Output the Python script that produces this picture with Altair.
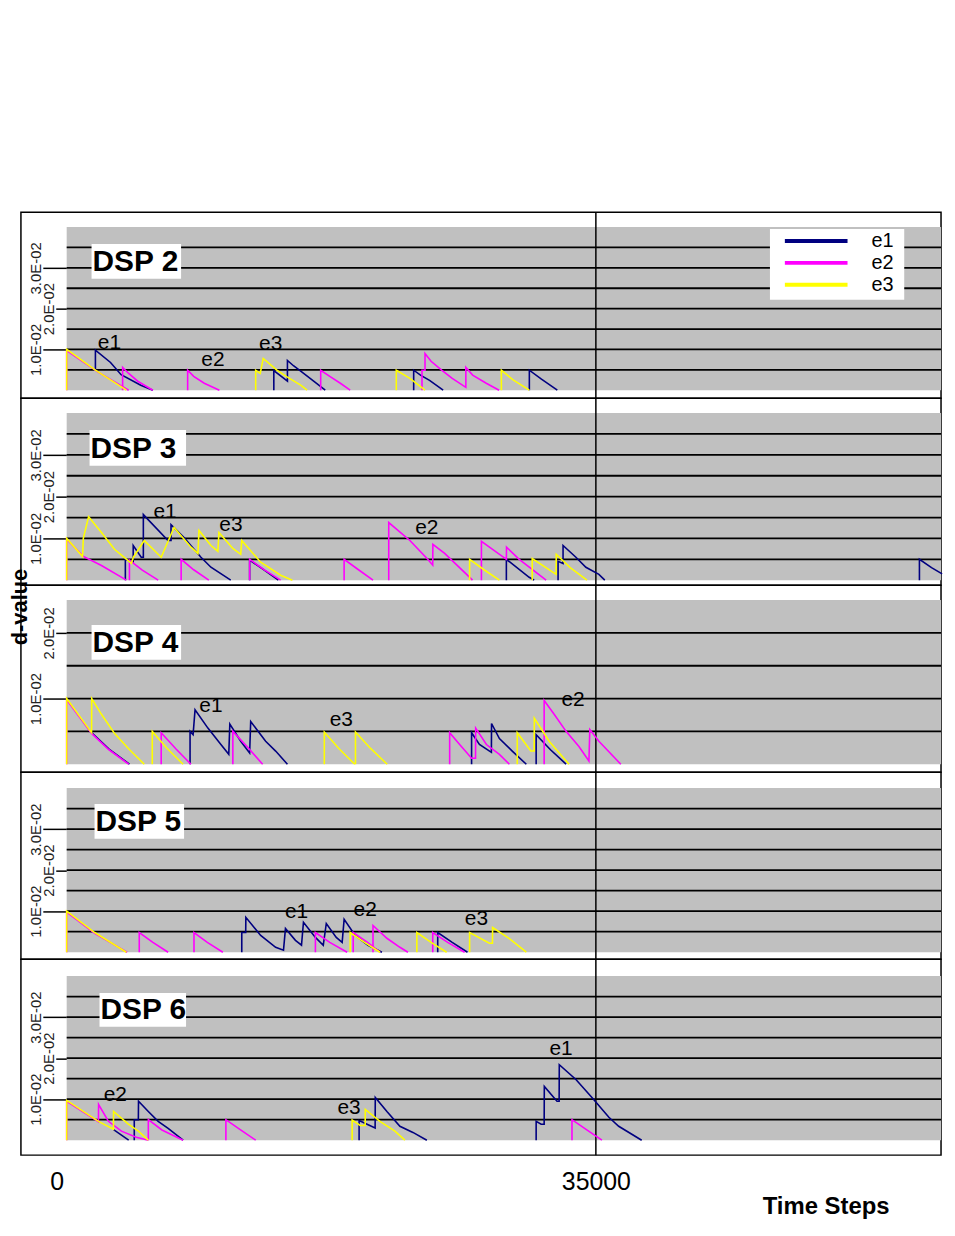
import altair as alt
import pandas as pd

FONT = "Liberation Sans"
SERIES = ["e1", "e2", "e3"]
COLORS = ["#000080", "#ff00ff", "#ffff00"]
PANEL_NAMES = ["DSP 2", "DSP 3", "DSP 4", "DSP 5", "DSP 6"]
X_TICKS = [0, 35000]
Y_MAX = [0.04, 0.04, 0.025, 0.04, 0.04]
Y_TICKS = [[0.01, 0.02, 0.03], [0.01, 0.02, 0.03], [0.01, 0.02],
           [0.01, 0.02, 0.03], [0.01, 0.02, 0.03]]
GRID_8 = [0.005, 0.01, 0.015, 0.02, 0.025, 0.03, 0.035]
GRID_5 = [0.005, 0.01, 0.015, 0.02]
GRIDS = [GRID_8, GRID_8, GRID_5, GRID_8, GRID_8]

# ---- (time step, d-value) runs for each series ----
DSP2_E1 = [
    [(1900, 0.0050), (1900, 0.0098), (2900, 0.0068), (3600, 0.0038), (4900, 0.0012), (5700, 0)],
    [(13700, 0), (13700, 0.0048), (14600, 0.0022), (14600, 0.0073), (15000, 0.0060), (15500, 0.0046), (16100, 0.0029), (17100, 0)],
    [(22950, 0), (22950, 0.0049), (23400, 0.0037), (24000, 0.0024), (24900, 0)],
    [(30600, 0), (30600, 0.0049), (31400, 0.0027), (32450, 0)],
]
DSP2_E2 = [
    [(0, 0), (0, 0.0097), (2000, 0.0046), (4100, 0)],
    [(3700, 0), (3700, 0.0056), (4100, 0.0041), (4700, 0.0022), (5700, 0)],
    [(8000, 0), (8000, 0.0049), (8400, 0.0034), (9100, 0.0017), (10100, 0)],
    [(16800, 0), (16800, 0.0049), (17400, 0.0034), (18100, 0.0017), (18750, 0)],
    [(23500, 0), (23500, 0.0049), (23700, 0.0049), (23700, 0.0090), (24100, 0.0071), (24800, 0.0049),
     (25500, 0.0029), (26400, 0.0007), (26400, 0.0056), (26850, 0.0037), (27750, 0.0017), (28600, 0)],
]
DSP2_E3 = [
    [(0, 0), (0, 0.0100), (1900, 0.0049), (3950, 0)],
    [(12500, 0), (12500, 0.0049), (12800, 0.0041), (13000, 0.0078), (13900, 0.0049), (14600, 0.0032), (15500, 0.0012), (15900, 0)],
    [(21800, 0), (21800, 0.0049), (22700, 0.0029), (23700, 0)],
    [(28750, 0), (28750, 0.0049), (29500, 0.0026), (30600, 0)],
]

DSP3_E1 = [
    [(3880, 0), (3880, 0.0050), (4400, 0.0043), (4400, 0.0083), (4930, 0.0055), (5070, 0.0055), (5070, 0.0157),
     (6700, 0.0095), (6900, 0.0095), (6900, 0.0133), (7760, 0.0102), (8880, 0.0055), (9540, 0.0031), (10850, 0)],
    [(12100, 0), (12100, 0.0048), (13000, 0.0026), (14000, 0)],
    [(29080, 0), (29080, 0.0050), (30590, 0.0007), (30920, 0)],
    [(32500, 0), (32500, 0.0045), (32830, 0.0040), (32830, 0.0083), (33680, 0.0055), (34340, 0.0031), (35200, 0.0014), (35590, 0)],
    [(56400, 0), (56400, 0.0050), (57200, 0.0030), (57900, 0.0015)],
]
DSP3_E2 = [
    [(0, 0), (0, 0.0098), (1100, 0.0057), (2300, 0.0035), (3950, 0)],
    [(4150, 0), (4150, 0.0048), (5000, 0.0024), (6050, 0)],
    [(7570, 0), (7570, 0.0050), (8400, 0.0025), (9400, 0)],
    [(12100, 0), (12100, 0.0050), (13100, 0.0024), (14150, 0)],
    [(18350, 0), (18350, 0.0050), (19300, 0.0025), (20260, 0)],
    [(21300, 0), (21300, 0.0138), (22700, 0.0095), (23880, 0.0050), (24210, 0.0036), (24220, 0.0086),
     (25000, 0.0064), (26450, 0.0014), (26840, 0)],
    [(27430, 0), (27430, 0.0093), (29080, 0.0050), (29090, 0.0079), (29930, 0.0050), (31710, 0)],
]
DSP3_E3 = [
    [(0, 0), (0, 0.0100), (1050, 0.0057), (1100, 0.0100), (1450, 0.0152), (2300, 0.0114), (3160, 0.0074),
     (4280, 0.0040), (4410, 0.0055), (5130, 0.0095), (6050, 0.0062), (6250, 0.0055), (7100, 0.0126),
     (8220, 0.0079), (8680, 0.0064), (8750, 0.0119), (9540, 0.0083), (10000, 0.0069), (10070, 0.0114),
     (10990, 0.0076), (11510, 0.0062), (11580, 0.0095), (12830, 0.0043), (14150, 0.0012), (14930, 0)],
    [(26650, 0), (26650, 0.0050), (27600, 0.0025), (28620, 0)],
    [(30790, 0), (30790, 0.0052), (32370, 0.0014), (32380, 0.0062), (33300, 0.0030), (34410, 0)],
]

DSP4_E1 = [
    [(1645, 0.0048), (2800, 0.0023), (4150, 0)],
    [(8160, 0), (8160, 0.0050), (8360, 0.0045), (8490, 0.0083), (9340, 0.0055), (10200, 0.0030), (10720, 0.0015),
     (10790, 0.0061), (11510, 0.0035), (12100, 0.0017), (12170, 0.0065), (13160, 0.0035), (13820, 0.0020), (14600, 0)],
    [(26780, 0), (26780, 0.0048), (27300, 0.0030), (28090, 0.0018), (28100, 0.0062), (28620, 0.0039), (29470, 0.0020), (30400, 0)],
    [(31050, 0), (31050, 0.0045), (32000, 0.0022), (33030, 0)],
]
DSP4_E2 = [
    [(0, 0), (0, 0.0098), (1645, 0.0047), (2800, 0.0022), (4100, 0)],
    [(6250, 0), (6250, 0.0048), (7200, 0.0024), (8220, 0)],
    [(10990, 0), (10990, 0.0050), (12000, 0.0025), (12960, 0)],
    [(25330, 0), (25330, 0.0048), (25990, 0.0030), (26780, 0.0009), (27040, 0.0009), (27050, 0.0055),
     (27760, 0.0030), (28620, 0.0015), (29280, 0)],
    [(31580, 0), (31580, 0.0097), (32240, 0.0076), (33030, 0.0050), (33880, 0.0027), (34540, 0.0005),
     (34600, 0.0053), (35200, 0.0035), (36650, 0)],
]
DSP4_E3 = [
    [(0, 0), (0, 0.0100), (1645, 0.0048), (1655, 0.0100), (2300, 0.0076), (3160, 0.0047), (4080, 0.0024), (5130, 0)],
    [(5660, 0), (5660, 0.0050), (6600, 0.0025), (7700, 0)],
    [(17040, 0), (17040, 0.0049), (18000, 0.0024), (19050, 0)],
    [(19100, 0), (19100, 0.0049), (20100, 0.0024), (21200, 0)],
    [(29800, 0), (29800, 0.0048), (30700, 0.0020), (30920, 0.0020), (30930, 0.0070), (31910, 0.0035), (33220, 0)],
]

DSP5_E1 = [
    [(11580, 0), (11580, 0.0048), (11840, 0.0048), (11850, 0.0085), (12830, 0.0041), (13820, 0.0012),
     (14340, 0.0005), (14470, 0.0058), (15130, 0.0029), (15530, 0.0017), (15660, 0.0073), (16450, 0.0036),
     (16970, 0.0017), (17170, 0.0070), (17830, 0.0036), (18220, 0.0024), (18350, 0.0080), (19080, 0.0041),
     (19930, 0.0017), (20850, 0)],
    [(24540, 0), (24540, 0.0048), (25500, 0.0024), (26510, 0)],
]
DSP5_E2 = [
    [(0, 0), (0, 0.0098), (1850, 0.0046), (4000, 0)],
    [(4800, 0), (4800, 0.0048), (5700, 0.0024), (6710, 0)],
    [(8420, 0), (8420, 0.0048), (9300, 0.0024), (10330, 0)],
    [(16450, 0), (16450, 0.0048), (17400, 0.0024), (18550, 0)],
    [(18950, 0), (18950, 0.0048), (19900, 0.0024), (20720, 0)],
    [(20260, 0), (20260, 0.0065), (21180, 0.0034), (22040, 0.0012), (22570, 0)],
    [(24210, 0), (24210, 0.0048), (25200, 0.0024), (26320, 0)],
]
DSP5_E3 = [
    [(0, 0), (0, 0.0100), (1850, 0.0048), (3950, 0)],
    [(18750, 0), (18750, 0.0048), (19700, 0.0024), (20720, 0)],
    [(23160, 0), (23160, 0.0048), (24100, 0.0024), (25130, 0)],
    [(26650, 0), (26650, 0.0048), (27960, 0.0022), (28160, 0.0022), (28170, 0.0060), (29280, 0.0033), (30400, 0)],
]

DSP6_E1 = [
    [(3100, 0.0026), (4100, 0)],
    [(4470, 0), (4470, 0.0050), (4740, 0.0050), (4750, 0.0095), (5400, 0.0070), (6050, 0.0046), (6710, 0.0029), (7700, 0)],
    [(19340, 0), (19340, 0.0048), (20400, 0.0030), (20410, 0.0104), (21180, 0.0070), (22040, 0.0034), (22900, 0.0019), (23820, 0)],
    [(31050, 0), (31050, 0.0046), (31380, 0.0039), (31580, 0.0039), (31590, 0.0131), (32430, 0.0095), (32570, 0.0095),
     (32580, 0.0184), (33680, 0.0148), (34740, 0.0104), (35860, 0.0056), (36510, 0.0034), (38030, 0)],
]
DSP6_E2 = [
    [(0, 0), (0, 0.0095), (2100, 0.0045), (2110, 0.0087), (2760, 0.0046), (3620, 0.0022), (4600, 0.0007), (5400, 0)],
    [(5400, 0), (5400, 0.0050), (6300, 0.0025), (7700, 0)],
    [(10530, 0), (10530, 0.0050), (11500, 0.0025), (12500, 0)],
    [(33420, 0), (33420, 0.0050), (34400, 0.0025), (35400, 0)],
]
DSP6_E3 = [
    [(0, 0), (0, 0.0097), (2100, 0.0046), (3090, 0.0027), (3100, 0.0070), (4080, 0.0039), (4740, 0.0022), (5400, 0)],
    [(18880, 0), (18880, 0.0049), (19410, 0.0036), (19740, 0.0036), (19750, 0.0075), (20720, 0.0046), (21710, 0.0022), (22370, 0)],
]

# peak annotations: (text, time step, d-value)
DSP2_LABELS = [("e1", 2830, 0.0115), ("e2", 9670, 0.0073), ("e3", 13490, 0.0112)]
DSP3_LABELS = [("e1", 6510, 0.0164), ("e3", 10860, 0.0133), ("e2", 23820, 0.0126)]
DSP4_LABELS = [("e1", 9540, 0.0088), ("e3", 18160, 0.0067), ("e2", 33490, 0.0098)]
DSP5_LABELS = [("e1", 15200, 0.0099), ("e2", 19740, 0.0102), ("e3", 27100, 0.0080)]
DSP6_LABELS = [("e2", 3220, 0.0109), ("e3", 18680, 0.0078), ("e1", 32700, 0.0221)]

PANELS = [
    (DSP2_E1, DSP2_E2, DSP2_E3, DSP2_LABELS),
    (DSP3_E1, DSP3_E2, DSP3_E3, DSP3_LABELS),
    (DSP4_E1, DSP4_E2, DSP4_E3, DSP4_LABELS),
    (DSP5_E1, DSP5_E2, DSP5_E3, DSP5_LABELS),
    (DSP6_E1, DSP6_E2, DSP6_E3, DSP6_LABELS),
]

# ---- layout (pixels) ----
W = 925
X0_PX = 46
PX_PER_STEP = 532 / 35000
X_LO = -X0_PX / PX_PER_STEP
X_HI = (W - X0_PX) / PX_PER_STEP
GEOM = [
    dict(h=187, top=15, bot=8, box=(71, 32, 161, 67), txt=(72, 50)),
    dict(h=188, top=15, bot=5, box=(69, 32, 166, 68), txt=(70, 51)),
    dict(h=188, top=15, bot=8, box=(71, 40, 161, 75), txt=(72, 58)),
    dict(h=188, top=16, bot=7, box=(74, 32, 164, 67), txt=(75, 50)),
    dict(h=197, top=17, bot=15, box=(79, 34, 166, 68), txt=(80, 51)),
]

LEGEND = alt.Legend(
    orient="none", legendX=766, legendY=18, title=None, direction="vertical",
    symbolType="stroke", symbolSize=3969, symbolStrokeWidth=4, clipHeight=22,
    labelFontSize=20, labelFont=FONT, labelColor="black", labelOffset=22,
    rowPadding=0, padding=0, symbolOffset=0,
)


def runs_frame(e1, e2, e3):
    rows = []
    for name, runs in zip(SERIES, (e1, e2, e3)):
        for k, run in enumerate(runs):
            for i, (t, v) in enumerate(run):
                rows.append({"series": name, "seg": f"{name}-{k}", "i": i, "t": t, "v": v})
    return pd.DataFrame(rows)


def make_panel(k):
    e1, e2, e3, labels = PANELS[k]
    g = GEOM[k]
    H = g["h"]
    gh = H - g["top"] - g["bot"]
    ymax = Y_MAX[k]
    ys = alt.Scale(domain=[-g["bot"] / gh * ymax, ymax + g["top"] / gh * ymax], nice=False, zero=False)
    xs = alt.Scale(domain=[X_LO, X_HI], nice=False, zero=False)
    last = k == len(PANELS) - 1

    if last:
        xax = alt.Axis(
            values=X_TICKS, format="d", domain=False, ticks=False, grid=False,
            labelPadding=15, labelFontSize=25, labelFont=FONT, labelColor="black",
            labelFlush=False, labelOverlap=False,
            labelOffset={"condition": {"test": "datum.value == 0", "value": -10}, "value": 0},
            titleX=809, titleY=59, titleFontSize=24, titleFontWeight="bold", titleFont=FONT,
            titleAlign="center", titleBaseline="alphabetic", titleColor="black",
        )
        xtitle = "Time Steps"
    else:
        xax = None
        xtitle = None

    yax = alt.Axis(
        values=Y_TICKS[k], orient="left", offset=-X0_PX, domain=False, grid=False,
        ticks=True, tickColor="black", tickWidth=1.5,
        tickSize={"condition": {"test": "abs(datum.value - 0.02) < 0.0001", "value": 11}, "value": 24},
        labelAngle=270, labelAlign="center", labelBaseline="alphabetic", labelPadding=2,
        labelFontSize=15, labelFont=FONT, labelColor="#222222", labelOverlap=False, labelFlush=False,
        labelExpr="replace(format(datum.value, '.1e'), 'e-', 'E-0')",
    )

    def X(field):
        return alt.X(field, scale=xs, axis=xax, title=xtitle)

    def Y(field):
        return alt.Y(field, scale=ys, axis=yax, title=None)

    one = alt.Data(values=[{}])

    bg = alt.Chart(pd.DataFrame({"x": [0.0], "x2": [X_HI], "y": [0.0], "y2": [ymax]})).mark_rect(
        color="#c0c0c0"
    ).encode(x=X("x:Q"), x2="x2:Q", y=Y("y:Q"), y2="y2:Q")

    grid = alt.Chart(pd.DataFrame({"g": GRIDS[k], "a": 0.0, "b": X_HI})).mark_rule(
        color="black", strokeWidth=1.8
    ).encode(y=Y("g:Q"), x=X("a:Q"), x2="b:Q")

    vline = alt.Chart(pd.DataFrame({"t": [X_TICKS[1]], "lo": [ys.domain[0]], "hi": [ys.domain[1]]})).mark_rule(
        color="black", strokeWidth=1.5
    ).encode(x=X("t:Q"), y=Y("lo:Q"), y2="hi:Q")

    b = g["box"]
    box = alt.Chart(one).mark_rect(color="white").encode(
        x=alt.value(b[0]), x2=alt.value(b[2]), y=alt.value(b[1]), y2=alt.value(b[3])
    )
    name = alt.Chart(one).mark_text(
        text=PANEL_NAMES[k], fontSize=30, fontWeight="bold", font=FONT, align="left",
        baseline="middle", color="black"
    ).encode(x=alt.value(g["txt"][0]), y=alt.value(g["txt"][1]))

    lines = alt.Chart(runs_frame(e1, e2, e3)).mark_line(strokeWidth=1.6).encode(
        x=X("t:Q"),
        y=Y("v:Q"),
        color=alt.Color("series:N", scale=alt.Scale(domain=SERIES, range=COLORS), legend=LEGEND),
        detail="seg:N",
        order="i:Q",
    )

    ann = alt.Chart(pd.DataFrame(labels, columns=["txt", "t", "v"])).mark_text(
        fontSize=21, font=FONT, color="black", align="center", baseline="middle"
    ).encode(x=X("t:Q"), y=Y("v:Q"), text="txt:N")

    layers = [bg, grid, vline, box, name]
    if k == 0:
        layers.append(
            alt.Chart(one).mark_rect(color="white").encode(
                x=alt.value(753), x2=alt.value(888), y=alt.value(17), y2=alt.value(88)
            )
        )
    if k == 2:
        layers.append(
            alt.Chart(one).mark_text(
                text="d-value", angle=270, align="center", baseline="top", fontSize=22,
                fontWeight="bold", font=FONT, color="black"
            ).encode(x=alt.value(-11), y=alt.value(22))
        )
    layers += [lines, ann]
    return alt.layer(*layers).properties(width=W, height=H)


chart = alt.vconcat(*[make_panel(k) for k in range(len(PANELS))], spacing=0, bounds="flush").properties(
    padding={"left": 0, "top": 200, "right": 0, "bottom": 0},
    background="white",
).configure(font=FONT).configure_view(stroke="black", strokeWidth=1.5)

chart.save("out.html", embed_options={"renderer": "svg", "actions": False})
